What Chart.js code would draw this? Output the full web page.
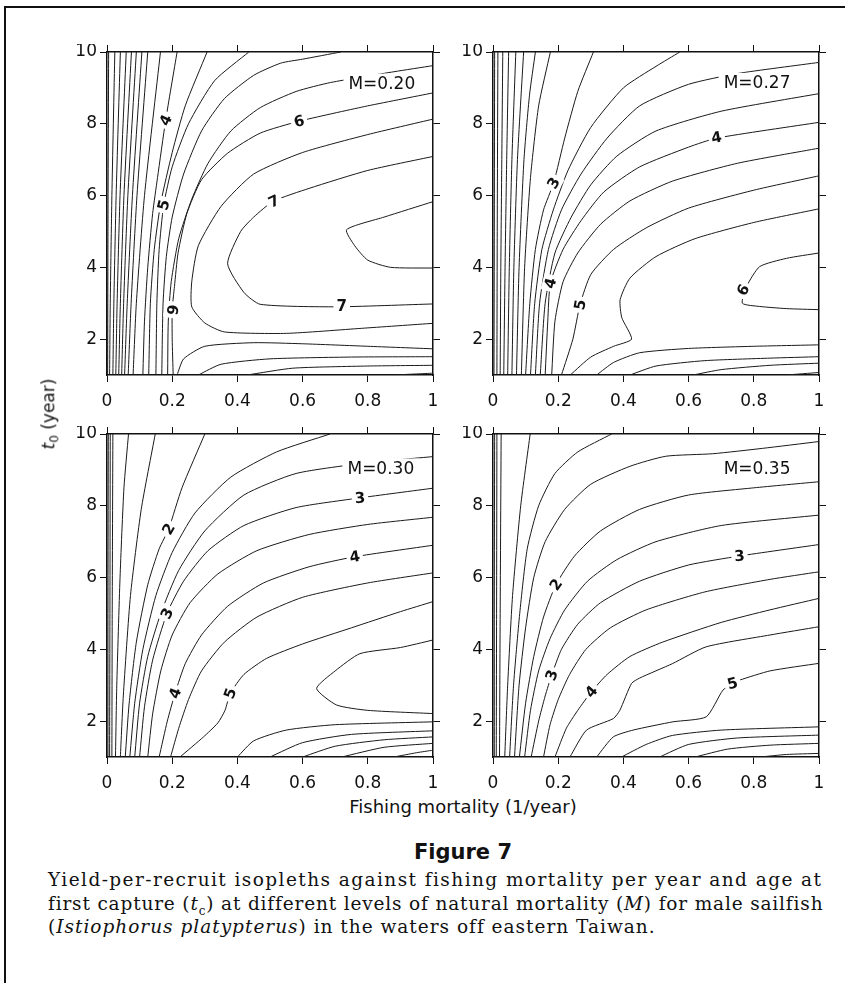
<!DOCTYPE html>
<html>
<head>
<meta charset="utf-8">
<script src="https://cdn.jsdelivr.net/npm/chart.js@4.4.1/dist/chart.umd.min.js"></script>
<style>
  body { margin: 0; background: #fff; }
  #page { position: relative; width: 845px; height: 983px; overflow: hidden; font-family: 'DejaVu Sans', sans-serif; color: #111; }
  .frame { position: absolute; left: 4px; top: 6px; width: 900px; height: 1000px; border-left: 2px solid #111; border-top: 2px solid #111; }
  canvas { position: absolute; }
  .ytitle { position: absolute; left: 50px; top: 414px; transform: translate(-50%, -50%) rotate(-90deg); font-size: 17px; white-space: nowrap; }
  .xtitle { position: absolute; left: 463px; top: 806px; transform: translate(-50%, -50%); font-size: 18px; white-space: nowrap; }
  .fig { position: absolute; left: 463px; top: 852px; transform: translate(-50%, -50%); font-size: 21px; font-weight: bold; white-space: nowrap; }
  .cap { position: absolute; left: 48px; font-family: 'DejaVu Serif', serif; font-size: 18.5px; line-height: 23px; white-space: nowrap; }
</style>
</head>
<body>
<div id="page">
  <div class="frame"></div>
  <canvas id="c1" width="379" height="369" style="left:62px;top:44px"></canvas>
  <canvas id="c2" width="379" height="369" style="left:448px;top:44px"></canvas>
  <canvas id="c3" width="379" height="369" style="left:62px;top:426px"></canvas>
  <canvas id="c4" width="379" height="369" style="left:448px;top:426px"></canvas>
  <div class="ytitle"><i>t</i><sub style="font-size:12px">0</sub> (year)</div>
  <div class="xtitle">Fishing mortality (1/year)</div>
  <div class="fig">Figure 7</div>
  <div class="cap" data-w="774" style="top:868px">Yield-per-recruit isopleths against fishing mortality per year and age at</div>
  <div class="cap" data-w="774" style="top:892px">first capture (<i>t</i><sub style="font-size:12px">c</sub>) at different levels of natural mortality (<i>M</i>) for male sailfish</div>
  <div class="cap" data-w="607" style="top:915px">(<i>Istiophorus platypterus</i>) in the waters off eastern Taiwan.</div>
</div>
<script>
var xTicks = [0, 0.2, 0.4, 0.6, 0.8, 1];
var yTicks = [2, 4, 6, 8, 10];
var panelTitles = ['M=0.20', 'M=0.27', 'M=0.30', 'M=0.35'];
var titleAt = [[0.843, 9.12], [0.81, 9.14], [0.84, 9.04], [0.81, 9.04]];

// isopleths, each one a list of [F, t0] points
var p1Lines = [
  [[.005,10],[.003,5],[.002,1]],
  [[.024,10],[.015,6],[.01,3],[.008,1]],
  [[.041,10],[.028,6],[.021,3],[.018,1]],
  [[.059,10],[.04,6],[.031,3],[.027,1]],
  [[.075,10],[.052,6],[.041,3],[.036,1]],
  [[.09,10],[.064,6],[.051,3],[.045,1]],
  [[.107,10],[.078,6],[.062,3],[.054,1]],
  [[.125,10],[.092,6],[.074,3],[.065,1]],
  [[.164,10],[.115,6],[.09,3],[.08,1]],
  [[.215,10],[.18,8.1],[.155,6.5],[.14,5.5],[.125,4],[.115,2.5],[.11,1]],
  [[.307,10],[.24,8.5],[.2,7.2],[.165,5.8],[.145,4.5],[.133,3],[.128,1]],
  [[.435,10],[.33,9.2],[.25,8],[.2,6.8],[.174,5.74],[.16,4.5],[.153,3],[.15,1]],
  [[.717,10],[.6,9.8],[.533,9.69],[.45,9.35],[.36,8.7],[.29,7.8],[.235,6.6],[.2,5.4],[.182,4.3],[.172,3],[.168,1]],
  [[1,9.62],[.88,9.45],[.686,9.15],[.58,8.9],[.47,8.45],[.38,7.8],[.31,6.9],[.26,5.9],[.22,4.8],[.197,3.6],[.188,2.5],[.186,1]],
  [[1,8.86],[.79,8.48],[.589,8.07],[.47,7.74],[.37,7.18],[.29,6.44],[.245,5.5],[.218,4.4],[.207,3.47],[.2,2.82],[.2,2],[.203,1]],
  [[1,8.13],[.8,7.7],[.6,7.2],[.45,6.6],[.35,5.7],[.28,4.6],[.26,3.6],[.26,2.9],[.3,2.45],[.36,2.2],[.55,2.16],[.78,2.3],[1,2.44]],
  [[1,7.09],[.8,6.7],[.62,6.2],[.51,5.84],[.45,5.4],[.41,5],[.37,4.1],[.42,3.3],[.47,2.97],[.7,2.9],[1,2.98]],
  [[1,5.83],[.85,5.4],[.735,5.05],[.76,4.6],[.8,4.2],[.87,4],[1,3.98]],
  [[.215,1],[.235,1.45],[.3,1.8],[.45,1.9],[.6,1.87],[.8,1.8],[1,1.73]],
  [[.28,1],[.35,1.3],[.5,1.45],[.75,1.5],[1,1.51]],
  [[.43,1],[.57,1.19],[.8,1.25],[1,1.27]],
  [[.88,1],[.95,1.03],[1,1.05]]
];
var p1Labels = [['4',.18,8.1,-65],['5',.174,5.74,-75],['6',.2,2.82,100],['6',.589,8.07,-14],['7',.512,5.84,-25],['7',.72,2.92,0]];

var p2Lines = [
  [[.003,1],[.004,5],[.005,10]],
  [[.012,1],[.013,5],[.015,10]],
  [[.022,1],[.024,4],[.027,7],[.03,10]],
  [[.033,1],[.037,4],[.042,7],[.048,10]],
  [[.045,1],[.05,4],[.058,7],[.07,10]],
  [[.058,1],[.064,4],[.075,7],[.094,10]],
  [[.072,1],[.08,4],[.095,7],[.112,8.8],[.13,10]],
  [[.087,1],[.097,4],[.115,6.5],[.14,8.5],[.176,10]],
  [[.1,1],[.113,3],[.13,4.5],[.155,5.6],[.186,6.35],[.22,7.6],[.26,8.9],[.308,10]],
  [[.115,1],[.128,3],[.15,4.5],[.185,5.6],[.23,6.7],[.3,7.9],[.4,9],[.5,9.6],[.573,10]],
  [[.13,1],[.143,3],[.17,4.5],[.21,5.6],[.27,6.6],[.35,7.6],[.45,8.5],[.6,9.1],[.75,9.4],[1,9.71]],
  [[.145,1],[.16,3],[.19,4.4],[.24,5.4],[.3,6.3],[.38,7.1],[.5,7.8],[.7,8.35],[1,8.84]],
  [[.16,1],[.168,2.5],[.176,3.56],[.215,4.5],[.27,5.3],[.34,6.1],[.45,6.8],[.6,7.35],[.686,7.6],[1,8.04]],
  [[.18,1],[.19,2.5],[.215,3.6],[.26,4.4],[.33,5.2],[.42,5.85],[.55,6.4],[.75,6.9],[1,7.32]],
  [[.21,1],[.245,2],[.267,2.96],[.3,3.8],[.37,4.5],[.47,5.1],[.6,5.65],[.8,6.15],[1,6.55]],
  [[.237,1],[.3,1.5],[.37,1.8],[.425,2],[.395,2.6],[.39,3.1],[.42,3.7],[.5,4.3],[.62,4.8],[.8,5.25],[1,5.63]],
  [[.318,1],[.37,1.35],[.45,1.62],[.6,1.74],[.8,1.8],[1,1.84]],
  [[.42,1],[.5,1.25],[.65,1.4],[.85,1.47],[1,1.51]],
  [[.614,1],[.7,1.15],[.85,1.27],[1,1.33]],
  [[.9,1],[1,1.07]],
  [[1,4.4],[.9,4.25],[.818,4.02],[.778,3.47],[.765,3],[.818,2.91],[.9,2.85],[1,2.82]]
];
var p2Labels = [['3',.186,6.35,-60],['4',.176,3.56,-75],['5',.267,2.96,-80],['4',.686,7.62,-10],['6',.767,3.37,-60]];

var p3Lines = [
  [[.003,1],[.003,5],[.004,10]],
  [[.008,1],[.009,5],[.01,10]],
  [[.015,1],[.016,5],[.018,10]],
  [[.026,1],[.03,3],[.04,6],[.052,8.5],[.066,10]],
  [[.041,1],[.05,2.7],[.072,5.5],[.105,7.9],[.148,10]],
  [[.056,1],[.068,2.5],[.09,4.2],[.125,5.8],[.16,6.8],[.189,7.35],[.23,8.5],[.3,10]],
  [[.07,1],[.085,2.5],[.11,4],[.15,5.5],[.2,6.7],[.27,7.8],[.38,8.8],[.52,9.5],[.684,10]],
  [[.085,1],[.1,2.5],[.125,3.8],[.165,5],[.22,6.2],[.3,7.3],[.42,8.3],[.58,8.9],[.8,9.2],[1,9.37]],
  [[.1,1],[.115,2.4],[.14,3.7],[.184,5],[.235,5.9],[.31,6.75],[.42,7.45],[.58,7.95],[.776,8.22],[1,8.49]],
  [[.125,1],[.14,2.2],[.165,3.4],[.2,4.4],[.255,5.3],[.34,6.1],[.46,6.75],[.62,7.2],[.8,7.48],[1,7.68]],
  [[.16,1],[.185,2],[.209,2.78],[.24,3.6],[.29,4.4],[.37,5.2],[.48,5.85],[.62,6.3],[.76,6.58],[1,6.9]],
  [[.195,1],[.22,1.8],[.25,2.6],[.29,3.4],[.36,4.2],[.46,4.9],[.6,5.45],[.8,5.85],[1,6.13]],
  [[.224,1],[.296,1.56],[.34,1.95],[.362,2.3],[.378,2.77],[.42,3.3],[.49,3.75],[.6,4.15],[.75,4.6],[.9,5.05],[1,5.33]],
  [[1,4.26],[.9,4.05],[.776,3.88],[.7,3.4],[.643,2.91],[.704,2.45],[.8,2.3],[1,2.21]],
  [[.4,1],[.45,1.45],[.55,1.75],[.7,1.9],[1,1.98]],
  [[.5,1],[.6,1.4],[.75,1.63],[1,1.73]],
  [[.6,1],[.7,1.3],[.85,1.48],[1,1.56]],
  [[.72,1],[.85,1.27],[1,1.38]],
  [[.88,1],[.95,1.12],[1,1.19]]
];
var p3Labels = [['2',.189,7.35,-60],['3',.184,5,-65],['4',.209,2.78,-70],['5',.378,2.77,-70],['3',.776,8.22,-5],['4',.76,6.58,-10]];

var p4Lines = [
  [[.004,1],[.004,5],[.005,10]],
  [[.01,1],[.011,5],[.012,10]],
  [[.02,1],[.022,5],[.025,10]],
  [[.036,1],[.045,3],[.06,5.5],[.085,8],[.114,10]],
  [[.051,1],[.063,3],[.082,5],[.105,6.8],[.14,8],[.19,8.9],[.26,9.5],[.364,10]],
  [[.066,1],[.08,3],[.1,4.6],[.125,6],[.16,7],[.22,7.9],[.3,8.6],[.42,9.1],[.53,9.38],[.674,9.45],[.827,9.6],[1,9.79]],
  [[.081,1],[.1,2.5],[.125,3.8],[.155,4.9],[.193,5.8],[.25,6.6],[.33,7.3],[.45,7.9],[.6,8.3],[.8,8.5],[1,8.67]],
  [[.097,1],[.115,2.3],[.14,3.4],[.175,4.3],[.22,5.1],[.29,5.9],[.38,6.5],[.5,7],[.7,7.45],[1,7.74]],
  [[.117,1],[.14,2],[.16,2.7],[.18,3.28],[.21,4],[.26,4.7],[.33,5.3],[.45,5.9],[.6,6.35],[.756,6.6],[1,6.92]],
  [[.155,1],[.175,1.9],[.2,2.6],[.235,3.3],[.285,4],[.36,4.6],[.47,5.1],[.65,5.6],[.85,5.95],[1,6.16]],
  [[.19,1],[.225,1.8],[.26,2.3],[.302,2.82],[.35,3.3],[.42,3.8],[.52,4.2],[.7,4.75],[.85,5.1],[1,5.42]],
  [[.236,1],[.287,1.75],[.369,2.07],[.389,2.3],[.425,3.05],[.45,3.2],[.55,3.6],[.654,4.07],[.85,4.4],[1,4.63]],
  [[.318,1],[.369,1.56],[.43,1.75],[.552,1.98],[.654,2.12],[.705,2.86],[.735,3.05],[.756,3.14],[.85,3.4],[1,3.61]],
  [[.394,1],[.47,1.35],[.55,1.6],[.7,1.75],[1,1.84]],
  [[.511,1],[.6,1.35],[.75,1.53],[1,1.61]],
  [[.62,1],[.72,1.22],[.85,1.33],[1,1.38]],
  [[.82,1],[.9,1.07],[1,1.1]]
];
var p4Labels = [['2',.193,5.8,-55],['3',.18,3.28,-70],['4',.302,2.82,-50],['3',.756,6.6,-5],['5',.735,3.05,-15]];

var tickFont = { family: "'DejaVu Sans', sans-serif", size: 17 };

function fixedTicks(list) {
  return function(scale) {
    scale.ticks = list.map(function(v) { return { value: v }; });
  };
}

function fixedSize(w, h) {
  return function(scale) {
    if (w !== null) scale.width = w;
    if (h !== null) scale.height = h;
    scale.paddingLeft = 0; scale.paddingRight = 0;
    scale.paddingTop = 0; scale.paddingBottom = 0;
  };
}

function axis(pos, min, max, list, showLabels, w, h, pad) {
  return {
    type: 'linear', position: pos, min: min, max: max,
    afterBuildTicks: fixedTicks(list),
    afterFit: fixedSize(w, h),
    ticks: {
      display: showLabels, font: tickFont, color: '#111', padding: pad, maxRotation: 0,
      callback: function(v) { return String(Math.round(v * 10) / 10); }
    },
    grid: { drawOnChartArea: false, drawTicks: true, tickLength: 7, color: '#111', tickColor: '#111', lineWidth: 1 },
    border: { display: true, color: '#111', width: 1.5 }
  };
}

function makePanel(id, lines, labels, idx) {
  var datasets = lines.map(function(line) {
    return {
      data: line.map(function(p) { return { x: p[0], y: p[1] }; }),
      showLine: true, pointRadius: 0, borderColor: '#1a1a1a', borderWidth: 1, tension: 0.2, fill: false
    };
  });

  // contour numbers and the M= tag, each on a white patch that cuts the line
  var labelPlugin = {
    id: 'isoLabels',
    afterDatasetsDraw: function(chart) {
      var ctx = chart.ctx, xs = chart.scales.x, ys = chart.scales.y;
      ctx.save();
      ctx.textAlign = 'center';
      ctx.textBaseline = 'middle';
      labels.forEach(function(l) {
        ctx.save();
        ctx.translate(xs.getPixelForValue(l[1]), ys.getPixelForValue(l[2]));
        ctx.rotate(l[3] * Math.PI / 180);
        ctx.font = "bold 15px 'DejaVu Sans'";
        var w = ctx.measureText(l[0]).width;
        ctx.fillStyle = '#fff';
        ctx.fillRect(-w / 2 - 3, -8, w + 6, 16);
        ctx.fillStyle = '#111';
        ctx.fillText(l[0], 0, 1);
        ctx.restore();
      });
      ctx.font = "17px 'DejaVu Sans'";
      var tx = xs.getPixelForValue(titleAt[idx][0]), ty = ys.getPixelForValue(titleAt[idx][1]);
      var tw = ctx.measureText(panelTitles[idx]).width;
      ctx.fillStyle = '#fff';
      ctx.fillRect(tx - tw / 2 - 5, ty - 10, tw + 10, 20);
      ctx.fillStyle = '#111';
      ctx.fillText(panelTitles[idx], tx, ty + 1);
      ctx.restore();
    }
  };

  new Chart(document.getElementById(id), {
    type: 'scatter',
    data: { datasets: datasets },
    options: {
      responsive: false,
      animation: false,
      devicePixelRatio: 1,
      layout: { padding: 0 },
      plugins: { legend: { display: false }, tooltip: { enabled: false } },
      scales: {
        x: axis('bottom', 0, 1, xTicks, true, null, 38, 9),
        x2: axis('top', 0, 1, xTicks, false, null, 8, 0),
        y: axis('left', 1, 10, yTicks, true, 45, null, 3),
        y2: axis('right', 1, 10, yTicks, false, 8, null, 0)
      }
    },
    plugins: [labelPlugin]
  });
}

makePanel('c1', p1Lines, p1Labels, 0);
makePanel('c2', p2Lines, p2Labels, 1);
makePanel('c3', p3Lines, p3Labels, 2);
makePanel('c4', p4Lines, p4Labels, 3);

// stretch each caption line to the width it has in the printed figure
document.querySelectorAll('.cap').forEach(function(el) {
  var target = +el.getAttribute('data-w');
  var n = el.textContent.length;
  var natural = el.getBoundingClientRect().width;
  el.style.letterSpacing = ((target - natural) / n) + 'px';
});
</script>
</body>
</html>
